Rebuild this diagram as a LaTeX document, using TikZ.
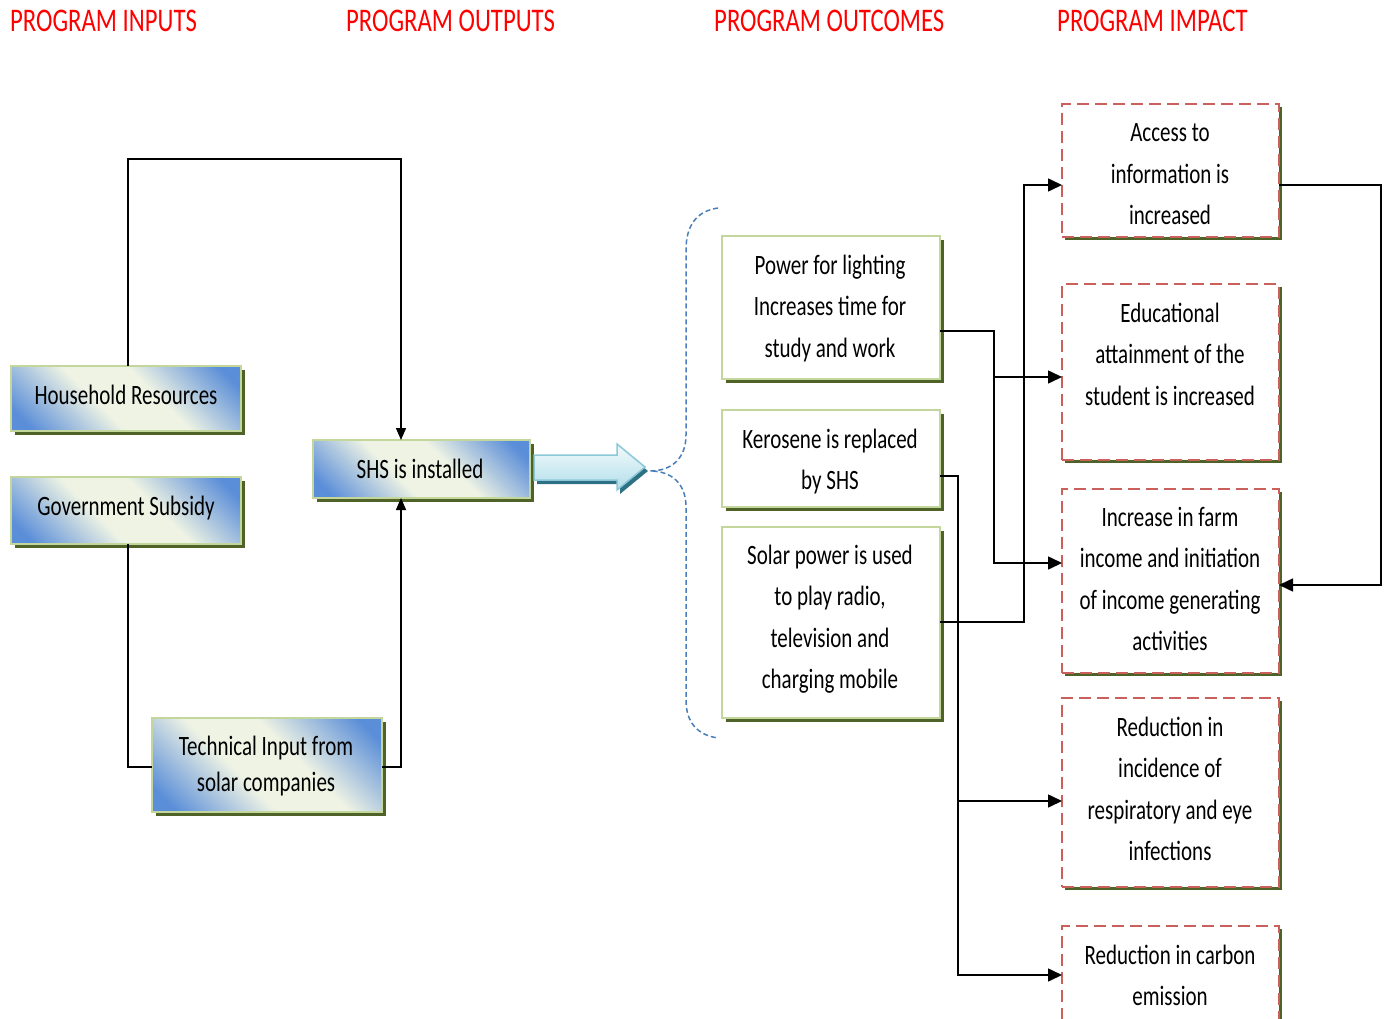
\documentclass[tikz,border=0pt]{standalone}
\usepackage{fontspec}
\setmainfont{Carlito}[FakeStretch=0.75]
\usetikzlibrary{arrows.meta,shadows}
\definecolor{olv}{HTML}{4F6228}
\definecolor{lgr}{HTML}{C3D69B}
\definecolor{gblue}{HTML}{5B8ED8}
\definecolor{glight}{HTML}{EEF3E4}
\definecolor{dred}{HTML}{C9605C}
\definecolor{brc}{HTML}{4A7EBB}
\definecolor{arrb}{HTML}{8CC8D8}
\definecolor{arrs}{HTML}{2E7184}
\definecolor{arrt}{HTML}{F2FAFC}
\definecolor{arrbot}{HTML}{B2DEEA}
\pgfdeclarehorizontalshading{inshade}{100bp}{color(0bp)=(gblue); color(20bp)=(gblue); color(42bp)=(glight); color(58bp)=(glight); color(80bp)=(gblue); color(100bp)=(gblue)}
\begin{document}
\begin{tikzpicture}[x=1pt,y=-1pt,
  ttl/.style={font=\fontsize{33}{40}\selectfont, text=red, anchor=base west, inner sep=0},
  txt/.style={font=\fontsize{28}{41.5}\selectfont, align=center, inner sep=0},
  inbox/.style={draw=lgr, line width=2.5pt, shading=inshade, shading angle=45, inner sep=0, outer sep=0,
    drop shadow={shadow xshift=4pt, shadow yshift=-4pt, opacity=1, fill=olv}},
  outbox/.style={draw=lgr, line width=2.5pt, fill=white, inner sep=0, outer sep=0, minimum width=218pt,
    drop shadow={shadow xshift=4pt, shadow yshift=-4pt, opacity=1, fill=olv}},
  impbox/.style={draw=dred, line width=2pt, dash pattern=on 12pt off 6pt, fill=white, inner sep=0, outer sep=0, minimum width=217pt,
    drop shadow={shadow xshift=3pt, shadow yshift=-3pt, opacity=1, fill=olv}},
  conn/.style={draw=black, line width=1.6pt},
  iconn/.style={draw=black, line width=1.4pt},
  arr/.style={-{Triangle[length=14pt,width=13pt]}},
  iarr/.style={-{Triangle[length=12pt,width=10pt]}},
  brace/.style={draw=brc, line width=1.5pt, dash pattern=on 5pt off 3pt}
]
\useasboundingbox (0,0) rectangle (1390,1019);
\clip (0,0) rectangle (1390,1019);

% titles
\node[ttl] (t1) at (10,32) {PROGRAM INPUTS};
\node[ttl] (t2) at (346,32) {PROGRAM OUTPUTS};
\node[ttl] (t3) at (714,32) {PROGRAM OUTCOMES};
\node[ttl] (t4) at (1057,32) {PROGRAM IMPACT};

% input boxes
\node[inbox, minimum width=230pt, minimum height=65pt] (hh) at (126,398.5) {};
\node[txt] (hht) at (126,396) {\strut Household Resources};
\node[inbox, minimum width=230pt, minimum height=67pt] (gov) at (126,510.5) {};
\node[txt] (govt) at (126,507) {\strut Government Subsidy};
\node[inbox, minimum width=217pt, minimum height=58pt] (shs) at (421.5,469) {};
\node[txt] (shst) at (420,470) {\strut SHS is installed};
\node[inbox, minimum width=230pt, minimum height=94pt] (tech) at (267,765) {};
\node[txt, font=\fontsize{28}{36}\selectfont] (techt) at (266,766) {\strut Technical Input from\\\strut solar companies};

% big arrow
\path[fill=arrt, top color=arrt, bottom color=arrbot, draw=arrb, line width=1.5pt,
  drop shadow={shadow xshift=3pt, shadow yshift=-4pt, opacity=1, fill=arrs}]
  (534,455) -- (617,455) -- (617,444) -- (645,467) -- (617,490) -- (617,480) -- (534,480) -- cycle;

% brace
\draw[brace] (718,208) .. controls (697,211) and (686,225) .. (686,250) -- (686,435)
  .. controls (686,458) and (672,471) .. (650,471)
  .. controls (672,471) and (686,484) .. (686,507) -- (686,700)
  .. controls (686,722) and (697,735) .. (718,738);

% outcome boxes
\node[outbox, minimum height=143pt] (pow) at (831,307.5) {};
\node[txt] (powt) at (830,307.5) {\strut Power for lighting\\\strut Increases time for\\\strut study and work};
\node[outbox, minimum height=97pt] (ker) at (831,458.5) {};
\node[txt] (kert) at (830,460.5) {\strut Kerosene is replaced\\\strut by SHS};
\node[outbox, minimum height=191pt] (sol) at (831,622.5) {};
\node[txt] (solt) at (830,618) {\strut Solar power is used\\\strut to play radio,\\\strut television and\\\strut charging mobile};

% impact boxes
\node[impbox, minimum height=133pt] (acc) at (1170.5,170.5) {};
\node[txt] (acct) at (1170,175) {\strut Access to\\\strut information is\\\strut increased};
\node[impbox, minimum height=176pt] (edu) at (1170.5,372) {};
\node[txt] (edut) at (1170,355.5) {\strut Educational\\\strut attainment of the\\\strut student is increased};
\node[impbox, minimum height=184pt] (farm) at (1170.5,581) {};
\node[txt] (farmt) at (1170,580) {\strut Increase in farm\\\strut income and initiation\\\strut of income generating\\\strut activities};
\node[impbox, minimum height=189pt] (inc) at (1170.5,792.5) {};
\node[txt] (inct) at (1170,790) {\strut Reduction in\\\strut incidence of\\\strut respiratory and eye\\\strut infections};
\node[impbox, minimum height=114pt] (carb) at (1170.5,983) {};
\node[txt] (carbt) at (1170,976.5) {\strut Reduction in carbon\\\strut emission};

% input connectors
\coordinate (top1) at (128,159);
\draw[iconn, iarr] (hh.north -| top1) -- (top1) -| (shs.north -| 401,0);
\draw[iconn] (gov.south -| 128,0) |- (tech.west |- 0,767);
\draw[iconn, iarr] (tech.east |- 0,767) -| (shs.south -| 401,0);

% outcome -> impact connectors
\coordinate (j1) at (994,377);
\coordinate (j2) at (958,801);
\draw[conn,arr] (pow.east |- 0,331) -| (994,563) -- (farm.west |- 0,563);
\draw[conn,arr] (j1) -- (edu.west |- j1);
\draw[conn,arr] (ker.east |- 0,476) -| (958,975) -- (carb.west |- 0,975);
\draw[conn,arr] (j2) -- (inc.west |- j2);
\draw[conn,arr] (sol.east |- 0,622) -| (1024,185) -- (acc.west |- 0,185);
\draw[conn,arr] (acc.east |- 0,185) -- (1381,185) |- (farm.east |- 0,585);
\end{tikzpicture}
\end{document}
